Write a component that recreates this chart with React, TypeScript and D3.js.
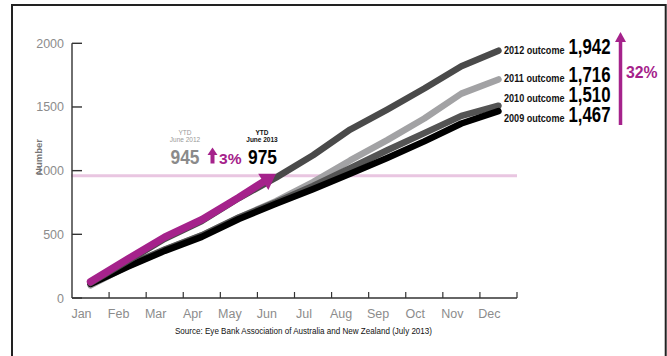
import React from "react";
import * as d3 from "d3";

// Cumulative monthly counts of eye donations (cornea), by year
const MONTHS = ["Jan", "Feb", "Mar", "Apr", "May", "Jun", "Jul", "Aug", "Sep", "Oct", "Nov", "Dec"];
const Y_TICKS = [0, 500, 1000, 1500, 2000];

const SERIES_2009 = [110, 245, 370, 480, 620, 740, 855, 975, 1100, 1230, 1370, 1467];
const SERIES_2010 = [118, 255, 380, 492, 632, 752, 880, 1020, 1160, 1295, 1430, 1510];
const SERIES_2011 = [100, 250, 378, 492, 632, 760, 910, 1080, 1240, 1410, 1605, 1716];
const SERIES_2012 = [118, 290, 465, 605, 785, 945, 1121, 1323, 1480, 1645, 1820, 1942];
const SERIES_2013 = [128, 305, 478, 615, 790, 975];

const OUTCOME_YEARS = ["2012", "2011", "2010", "2009"];
const OUTCOME_VALUES = [1942, 1716, 1510, 1467];

const YTD_PREV = 945;
const YTD_CURR = 975;
const YTD_PREV_LABEL = ["YTD", "June 2012"];
const YTD_CURR_LABEL = ["YTD", "June 2013"];
const YTD_GROWTH = "3%";
const TOTAL_GROWTH = "32%";
const REFERENCE_LEVEL = 960;
const SOURCE = "Source: Eye Bank Association of Australia and New Zealand  (July 2013)";

const W = 667;
const H = 356;
const PINK = "#a5228b";
const NARROW = "'Liberation Sans Narrow', 'Arial Narrow', 'Liberation Sans', Arial, sans-serif";

const x = d3.scaleBand<string>().domain(MONTHS).range([72, 517]);
const y = d3.scaleLinear().domain([0, 2000]).range([298, 43.3]);
const px = (i: number) => (x(MONTHS[i]) as number) + x.bandwidth() / 2;

const line = d3
  .line<number>()
  .x((_, i) => px(i))
  .y((v) => y(v))
  .curve(d3.curveLinear);

const fmt = d3.format(",");

// Spread the outcome labels so they do not collide
function labelBaselines(values: number[], gap: number): number[] {
  const ys = values.map((v) => y(v) + 3);
  for (let iter = 0; iter < 20; iter++) {
    for (let i = 1; i < ys.length; i++) {
      const d = ys[i] - ys[i - 1];
      if (d < gap) {
        const push = (gap - d) / 2;
        ys[i - 1] -= push;
        ys[i] += push;
      }
    }
  }
  return ys;
}

function ArrowLine({ values }: { values: number[] }) {
  const n = values.length - 1;
  const tip: [number, number] = [px(n), y(values[n])];
  const prev: [number, number] = [px(n - 1), y(values[n - 1])];
  const dx = tip[0] - prev[0];
  const dy = tip[1] - prev[1];
  const len = Math.hypot(dx, dy);
  const ux = dx / len;
  const uy = dy / len;
  const headLen = 15;
  const headHalf = 9.5;
  const base: [number, number] = [tip[0] - ux * headLen, tip[1] - uy * headLen];
  const pts = values.map((v, i) => [px(i), y(v)] as [number, number]);
  pts[n] = [base[0] + ux * 1, base[1] + uy * 1];
  const path = d3.line().curve(d3.curveLinear)(pts) as string;
  const c1 = [base[0] - uy * headHalf, base[1] + ux * headHalf];
  const c2 = [base[0] + uy * headHalf, base[1] - ux * headHalf];
  return (
    <g>
      <path d={path} fill="none" stroke={PINK} strokeWidth={7.5} strokeLinecap="round" strokeLinejoin="round" />
      <polygon points={`${tip[0]},${tip[1]} ${c1[0]},${c1[1]} ${c2[0]},${c2[1]}`} fill={PINK} />
    </g>
  );
}

function UpArrow({ cx, top, bottom, headH, headHalf, shaft }: { cx: number; top: number; bottom: number; headH: number; headHalf: number; shaft: number }) {
  return (
    <g fill={PINK}>
      <rect x={cx - shaft / 2} y={top + headH - 0.5} width={shaft} height={bottom - top - headH + 0.5} />
      <polygon points={`${cx},${top} ${cx - headHalf},${top + headH} ${cx + headHalf},${top + headH}`} />
    </g>
  );
}

export default function App() {
  const labelYs = labelBaselines(OUTCOME_VALUES, 20);
  const bandStarts = MONTHS.map((m) => x(m) as number);

  return (
    <svg
      width={W}
      height={H}
      viewBox={`0 0 ${W} ${H}`}
      style={{ position: "absolute", left: 0, top: 0, background: "#fff" }}
    >
      <rect x={0} y={0} width={W} height={H} fill="#fff" />
      {/* outer frame */}
      <rect x={12} y={5} width={653.7} height={400} fill="none" stroke="#222" strokeWidth={2} />

      {/* reference level */}
      <line x1={71} x2={517} y1={y(REFERENCE_LEVEL)} y2={y(REFERENCE_LEVEL)} stroke="#e9c6e1" strokeWidth={3} />

      {/* y axis */}
      <line x1={72} x2={72} y1={y(2000)} y2={y(0)} stroke="#333" strokeWidth={1.4} />
      {Y_TICKS.map((t) => (
        <g key={t}>
          <line x1={72} x2={82} y1={y(t)} y2={y(t)} stroke="#333" strokeWidth={1.4} />
          <text
            x={64}
            y={y(t) + 4.5}
            textAnchor="end"
            fontFamily={NARROW}
            fontSize={12.5}
            fill="#8c8c8c"
          >
            {t}
          </text>
        </g>
      ))}
      <text
        transform="translate(41.5,157) rotate(-90)"
        textAnchor="middle"
        fontFamily={NARROW}
        fontSize={9.5}
        fontWeight="bold"
        fill="#777"
      >
        Number
      </text>

      {/* x axis */}
      <line x1={72} x2={517} y1={y(0)} y2={y(0)} stroke="#333" strokeWidth={1.4} />
      {bandStarts.slice(1).concat([517]).map((bx, i) => (
        <line key={i} x1={bx} x2={bx} y1={y(0)} y2={y(0) - 6} stroke="#333" strokeWidth={1.2} />
      ))}
      {MONTHS.map((m, i) => (
        <text
          key={m}
          x={bandStarts[i] + 9.5}
          y={318}
          textAnchor="middle"
          fontFamily={NARROW}
          fontSize={12.5}
          fill="#8c8c8c"
        >
          {m}
        </text>
      ))}
      <text x={175} y={334} fontFamily={NARROW} fontSize={9.5} fill="#111" textLength={257} lengthAdjust="spacingAndGlyphs">
        {SOURCE}
      </text>

      {/* yearly series */}
      <path d={line(SERIES_2011) as string} fill="none" stroke="#a2a2a4" strokeWidth={6.5} strokeLinecap="round" strokeLinejoin="round" />
      <path d={line(SERIES_2010) as string} fill="none" stroke="#545454" strokeWidth={6.5} strokeLinecap="round" strokeLinejoin="round" />
      <path d={line(SERIES_2009) as string} fill="none" stroke="#000" strokeWidth={6.5} strokeLinecap="round" strokeLinejoin="round" />
      <path d={line(SERIES_2012) as string} fill="none" stroke="#4a4a4a" strokeWidth={6.5} strokeLinecap="round" strokeLinejoin="round" />
      <ArrowLine values={SERIES_2013} />

      {/* year-to-date comparison */}
      <g fontFamily={NARROW} textAnchor="middle">
        <text x={185} y={134.5} fontSize={6.5} fill="#999">{YTD_PREV_LABEL[0]}</text>
        <text x={185} y={141.5} fontSize={6.5} fill="#999">{YTD_PREV_LABEL[1]}</text>
        <text x={262} y={134.5} fontSize={6.5} fill="#111" fontWeight="bold">{YTD_CURR_LABEL[0]}</text>
        <text x={262} y={141.5} fontSize={6.5} fill="#111" fontWeight="bold">{YTD_CURR_LABEL[1]}</text>
      </g>
      <text x={170.5} y={163.5} fontFamily={NARROW} fontSize={21} fontWeight="bold" fill="#8a8a8a" textLength={29} lengthAdjust="spacingAndGlyphs">
        {fmt(YTD_PREV)}
      </text>
      <UpArrow cx={212.5} top={147.5} bottom={163.5} headH={7.5} headHalf={5} shaft={4} />
      <text x={219} y={163.5} fontFamily={NARROW} fontSize={15} fontWeight="bold" fill={PINK} textLength={22.5} lengthAdjust="spacingAndGlyphs">
        {YTD_GROWTH}
      </text>
      <text x={248} y={163.5} fontFamily={NARROW} fontSize={21} fontWeight="bold" fill="#000" textLength={29} lengthAdjust="spacingAndGlyphs">
        {fmt(YTD_CURR)}
      </text>

      {/* year-end outcomes */}
      {OUTCOME_YEARS.map((yr, i) => (
        <g key={yr}>
          <text
            x={564.5}
            y={labelYs[i]}
            textAnchor="end"
            fontFamily={NARROW}
            fontSize={10.5}
            fontWeight="bold"
            fill="#111"
            textLength={60.5}
            lengthAdjust="spacingAndGlyphs"
          >
            {`${yr} outcome`}
          </text>
          <text
            x={568.5}
            y={labelYs[i]}
            fontFamily={NARROW}
            fontSize={21.5}
            fontWeight="bold"
            fill="#000"
            textLength={42}
            lengthAdjust="spacingAndGlyphs"
          >
            {fmt(OUTCOME_VALUES[i])}
          </text>
        </g>
      ))}
      <UpArrow cx={620.5} top={32} bottom={125} headH={10} headHalf={5.5} shaft={3.5} />
      <text x={626} y={77.5} fontFamily={NARROW} fontSize={17} fontWeight="bold" fill={PINK} textLength={31.5} lengthAdjust="spacingAndGlyphs">
        {TOTAL_GROWTH}
      </text>
    </svg>
  );
}
